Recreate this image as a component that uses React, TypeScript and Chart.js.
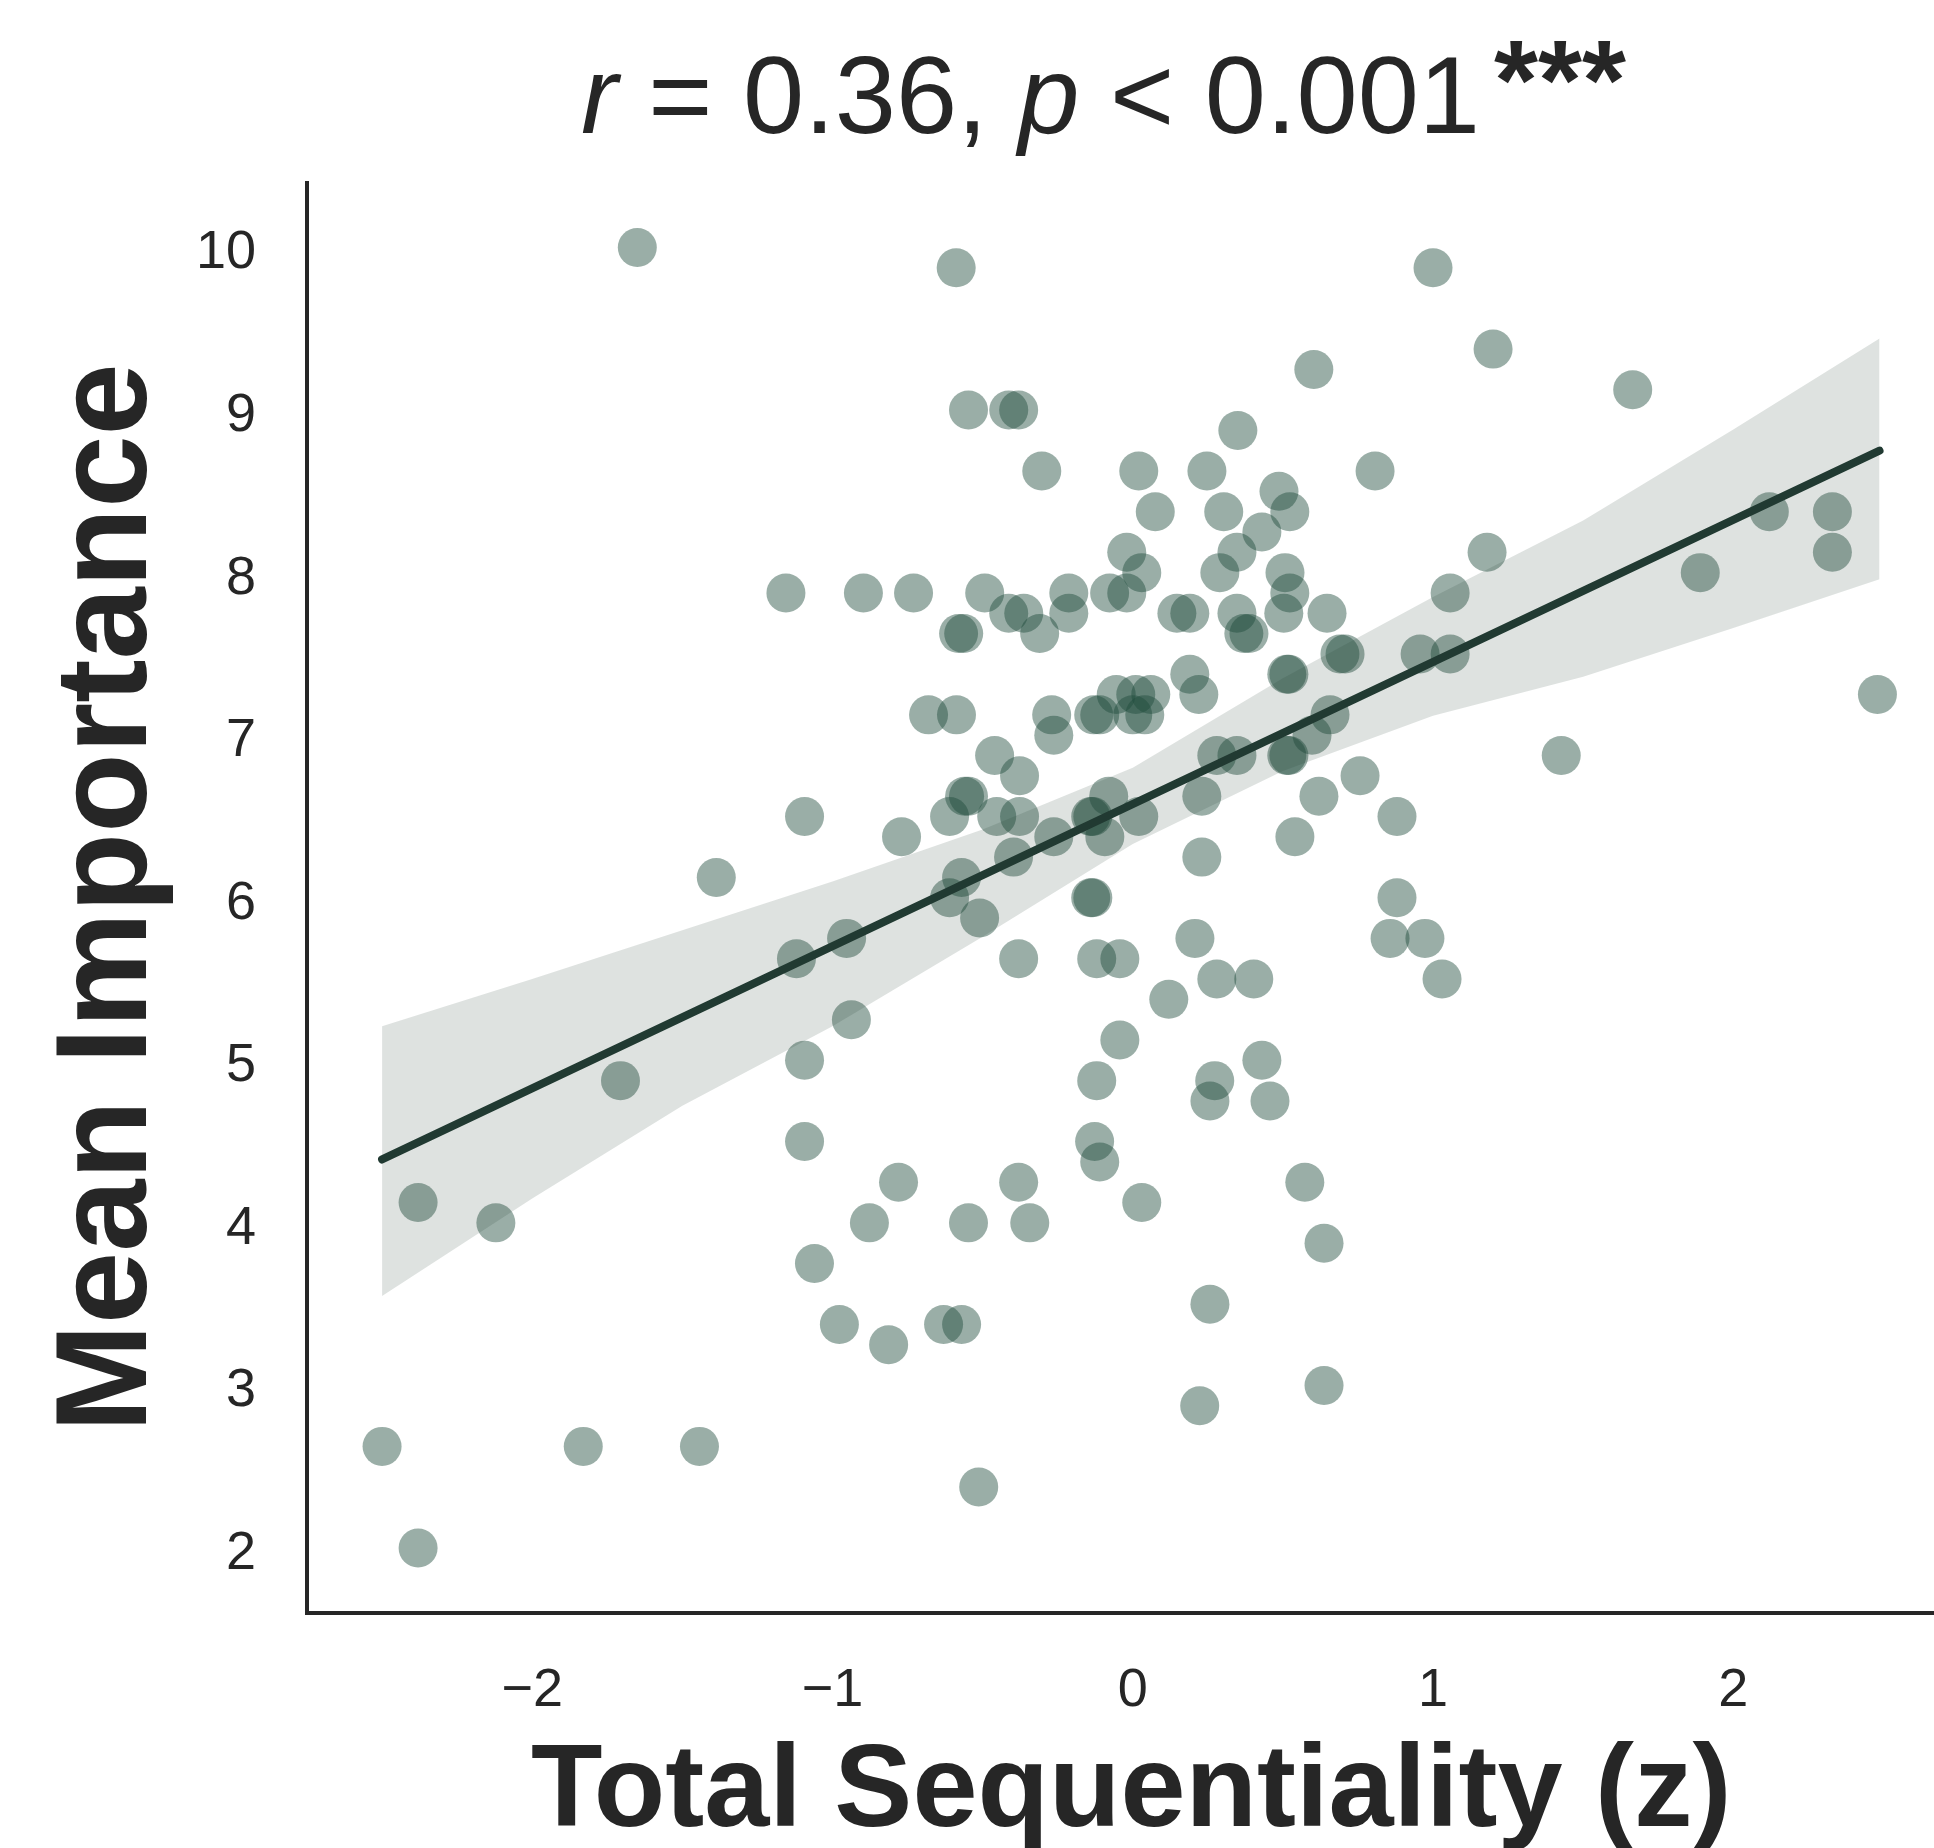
import React, { useEffect, useRef } from "react";
import { Chart, registerables } from "chart.js";

Chart.register(...registerables);

// ---- data ----
const sequentialityZ = [
  -1.65, -0.588, 1.0, 1.2, 0.603, 1.665, -0.547, -0.413, -0.38, 0.35,
  -0.303, 0.02, 0.247, 0.807, 0.487, 0.075, 0.303, 0.523, 2.12, 2.33,
  0.43, -0.02, 0.347, 1.18, 2.33, 0.03, 0.29, 0.507, 1.89, -1.155,
  -0.897, -0.73, -0.493, -0.213, -0.077, -0.02, 0.523, 1.057, -0.413, -0.363,
  -0.213, 0.147, 0.19, 0.347, 0.503, 0.647, -0.58, -0.563, -0.31, 0.37,
  0.387, 0.69, 0.707, 0.957, 1.057, 0.19, 0.513, 0.52, -0.055, 0.01,
  0.06, 0.22, 2.48, -0.68, -0.587, -0.27, -0.13, -0.11, 0.0, 0.04,
  0.657, -0.263, 0.597, -0.46, 0.28, 0.347, 0.513, 0.52, 1.427, -0.377,
  0.757, -0.56, -0.547, -0.08, 0.23, 0.62, -1.093, -0.61, -0.453, -0.377,
  -0.14, -0.133, 0.02, 0.88, -0.77, -0.263, -0.093, 0.54, -0.397, 0.23,
  -1.387, -0.57, -0.61, -0.14, -0.133, 0.88, -0.51, -0.953, 0.207, 0.857,
  0.973, -1.12, -0.38, -0.12, -0.043, 0.28, 0.403, 1.03, 0.12, -0.937,
  -0.043, -1.093, 0.43, -1.706, -0.12, 0.273, 0.257, 0.457, -1.093, -0.127,
  -0.11, -0.78, -0.38, 0.573, -2.38, 0.03, -2.121, -0.877, -0.547, -0.343,
  0.637, -1.06, 0.257, -0.977, -0.63, -0.57, -0.813, 0.637, 0.223, -2.5,
  -1.83, -1.443, -0.513, -2.38,
];
const meanImportance = [
  10.0, 9.875, 9.875, 9.375, 9.25, 9.125, 9.0, 9.0, 9.0, 8.875,
  8.625, 8.625, 8.625, 8.625, 8.5, 8.375, 8.375, 8.375, 8.375, 8.375,
  8.25, 8.125, 8.125, 8.125, 8.125, 8.0, 8.0, 8.0, 8.0, 7.875,
  7.875, 7.875, 7.875, 7.875, 7.875, 7.875, 7.875, 7.875, 7.75, 7.75,
  7.75, 7.75, 7.75, 7.75, 7.75, 7.75, 7.625, 7.625, 7.625, 7.625,
  7.625, 7.5, 7.5, 7.5, 7.5, 7.375, 7.375, 7.375, 7.25, 7.25,
  7.25, 7.25, 7.25, 7.125, 7.125, 7.125, 7.125, 7.125, 7.125, 7.125,
  7.125, 7.0, 7.0, 6.875, 6.875, 6.875, 6.875, 6.875, 6.875, 6.75,
  6.75, 6.625, 6.625, 6.625, 6.625, 6.625, 6.5, 6.5, 6.5, 6.5,
  6.5, 6.5, 6.5, 6.5, 6.375, 6.375, 6.375, 6.375, 6.25, 6.25,
  6.125, 6.125, 6.0, 6.0, 6.0, 6.0, 5.875, 5.75, 5.75, 5.75,
  5.75, 5.625, 5.625, 5.625, 5.625, 5.5, 5.5, 5.5, 5.375, 5.25,
  5.125, 5.0, 5.0, 4.875, 4.875, 4.875, 4.75, 4.75, 4.5, 4.5,
  4.375, 4.25, 4.25, 4.25, 4.125, 4.125, 4.0, 4.0, 4.0, 4.0,
  3.875, 3.75, 3.5, 3.375, 3.375, 3.375, 3.25, 3.0, 2.875, 2.625,
  2.625, 2.625, 2.375, 2.0,
];

// regression line end points
const fitX = [-2.5, 2.487];
const fitY = [4.39, 8.75];

// confidence band edges
const bandX = [-2.5, -2.0, -1.5, -1.0, -0.5, 0.0, 0.5, 1.0, 1.5, 2.0, 2.487];
const bandUpper = [5.21, 5.5, 5.8, 6.1, 6.42, 6.8, 7.35, 7.85, 8.32, 8.88, 9.44];
const bandLower = [3.55, 4.15, 4.72, 5.21, 5.76, 6.33, 6.78, 7.12, 7.36, 7.66, 7.96];

const xTicks = [-2, -1, 0, 1, 2];
const yTicks = [2, 3, 4, 5, 6, 7, 8, 9, 10];

const xTitle = "Total Sequentiality (z)";
const yTitle = "Mean Importance";
const statParts = [
  { text: "r", italic: true },
  { text: " = 0.36, ", italic: false },
  { text: "p", italic: true },
  { text: " < 0.001", italic: false },
];
const statStars = "***";

const FONT = "'Liberation Sans', Arial, Helvetica, sans-serif";
const INK = "#262626";
const POINT = "rgba(31, 75, 59, 0.45)";
const LINE = "#213a32";
const BAND = "rgba(33, 58, 50, 0.15)";

const CANVAS_W = 1975;
const CANVAS_H = 1848;

const fmt = (v: number) => (v < 0 ? "\u2212" + Math.abs(v) : String(v));

const textPlugin = {
  id: "figureTexts",
  afterDraw(chart: any) {
    const ctx: CanvasRenderingContext2D = chart.ctx;
    const { left, right, top, bottom } = chart.chartArea;
    ctx.save();
    ctx.fillStyle = INK;
    ctx.textBaseline = "alphabetic";

    // x title
    ctx.textAlign = "center";
    ctx.font = `bold 117px ${FONT}`;
    ctx.fillText(xTitle, (left + right) / 2, 1826);

    // y title
    ctx.save();
    ctx.translate(146, (top + bottom) / 2);
    ctx.rotate(-Math.PI / 2);
    ctx.font = `bold 130px ${FONT}`;
    ctx.fillText(yTitle, 0, 0);
    ctx.restore();

    // statistics subtitle
    ctx.textAlign = "left";
    let x = 581;
    for (const p of statParts) {
      ctx.font = `${p.italic ? "italic " : ""}110px ${FONT}`;
      ctx.fillText(p.text, x, 133);
      x += ctx.measureText(p.text).width;
    }
    ctx.font = `bold 113px ${FONT}`;
    ctx.fillText(statStars, x + 14, 119);
    ctx.restore();
  },
};

export default function App() {
  const ref = useRef<HTMLCanvasElement | null>(null);

  useEffect(() => {
    if (!ref.current) return;
    const points = sequentialityZ.map((x, i) => ({ x, y: meanImportance[i] }));
    const chart = new Chart(ref.current, {
      type: "scatter",
      data: {
        datasets: [
          {
            type: "line",
            label: "fit",
            data: fitX.map((x, i) => ({ x, y: fitY[i] })),
            borderColor: LINE,
            borderWidth: 8,
            borderCapStyle: "round",
            pointRadius: 0,
            fill: false,
            order: 1,
          } as any,
          {
            type: "line",
            label: "ci upper",
            data: bandX.map((x, i) => ({ x, y: bandUpper[i] })),
            borderColor: "rgba(0,0,0,0)",
            borderWidth: 0,
            pointRadius: 0,
            backgroundColor: BAND,
            fill: "+1",
            order: 2,
          } as any,
          {
            type: "line",
            label: "ci lower",
            data: bandX.map((x, i) => ({ x, y: bandLower[i] })),
            borderColor: "rgba(0,0,0,0)",
            borderWidth: 0,
            pointRadius: 0,
            fill: false,
            order: 2,
          } as any,
          {
            type: "scatter",
            label: "participants",
            data: points,
            backgroundColor: POINT,
            borderWidth: 0,
            pointRadius: 19.5,
            pointHoverRadius: 19.5,
            order: 3,
          } as any,
        ],
      },
      options: {
        responsive: false,
        animation: false,
        devicePixelRatio: 1,
        events: [],
        layout: { padding: { left: 0, right: 9, top: 182.5, bottom: 0 } },
        plugins: {
          legend: { display: false },
          tooltip: { enabled: false },
          title: { display: false },
        },
        scales: {
          x: {
            type: "linear",
            min: -2.75,
            max: 2.74,
            afterBuildTicks: (axis: any) => {
              axis.ticks = xTicks.map((v) => ({ value: v }));
            },
            afterFit: (s: any) => {
              s.height = 235;
            },
            grid: { display: false, drawTicks: false },
            border: { display: true, color: INK, width: 4 },
            ticks: {
              autoSkip: false,
              maxRotation: 0,
              padding: 46,
              color: INK,
              font: { family: FONT, size: 54 },
              callback: (v: any) => fmt(Number(v)),
            },
          },
          y: {
            type: "linear",
            min: 1.6,
            max: 10.4,
            afterBuildTicks: (axis: any) => {
              axis.ticks = yTicks.map((v) => ({ value: v }));
            },
            afterFit: (s: any) => {
              s.width = 307;
            },
            grid: { display: false, drawTicks: false },
            border: { display: true, color: INK, width: 4 },
            ticks: {
              autoSkip: false,
              padding: 51,
              labelOffset: 6,
              color: INK,
              font: { family: FONT, size: 54 },
              callback: (v: any) => fmt(Number(v)),
            },
          },
        },
      } as any,
      plugins: [textPlugin],
    });
    return () => chart.destroy();
  }, []);

  return (
    <div
      style={{
        position: "fixed",
        left: 0,
        top: 0,
        width: 1934,
        height: 1848,
        overflow: "hidden",
        background: "#ffffff",
      }}
    >
      <canvas
        ref={ref}
        width={CANVAS_W}
        height={CANVAS_H}
        style={{ display: "block", width: CANVAS_W, height: CANVAS_H }}
      />
    </div>
  );
}
